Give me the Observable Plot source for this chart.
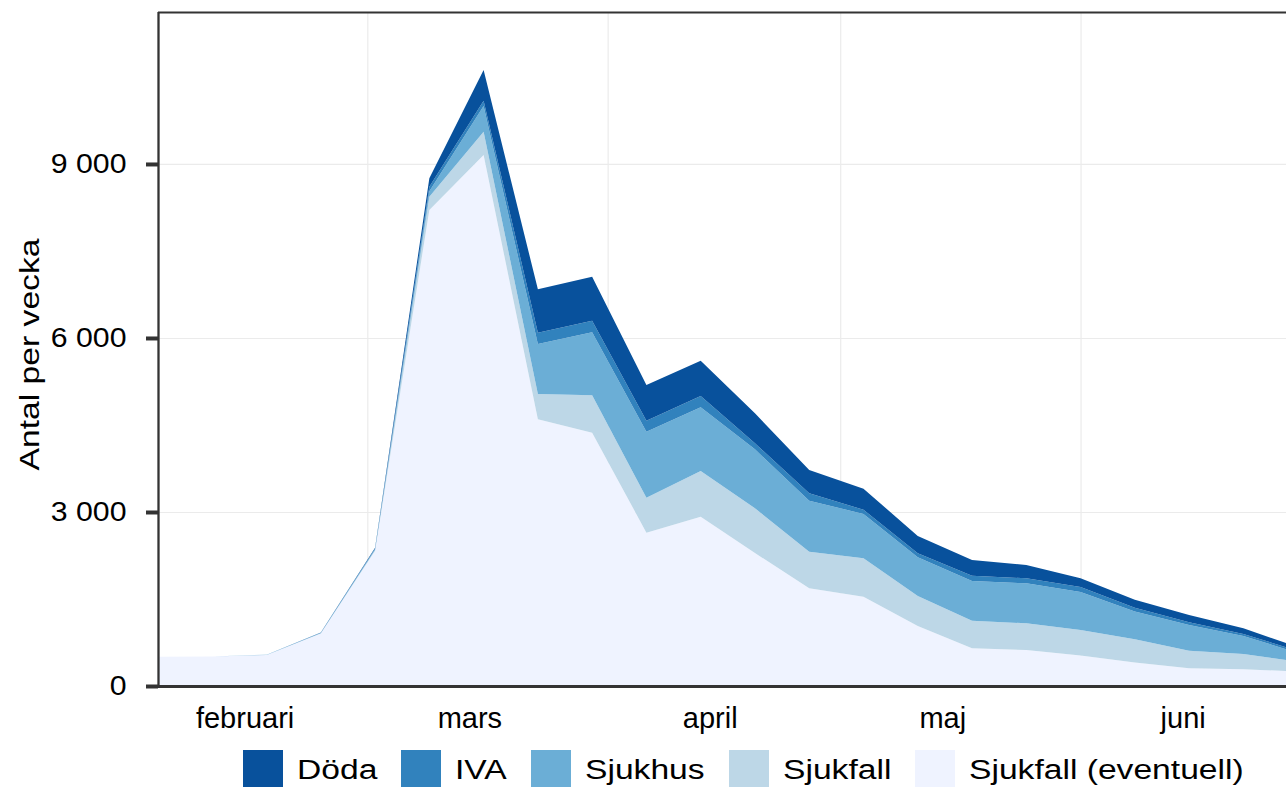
<!DOCTYPE html>
<html>
<head>
<meta charset="utf-8">
<script src="https://cdn.jsdelivr.net/npm/d3@7"></script>
<script src="https://cdn.jsdelivr.net/npm/@observablehq/plot@0.6"></script>
<style>
  html, body { margin: 0; padding: 0; background: #fff; overflow: hidden; width: 1286px; height: 787px; }
  #chart svg { display: block; }
  #legend { margin: 6px 0 0 243px; }
  .lg-swatches { font-family: "Liberation Sans", Arial, sans-serif !important; font-size: 27px !important; color: #000 !important; margin: 0 !important; }
  .lg-swatch { margin-right: 24px !important; }
  .lg-swatch > svg { margin-right: 14px !important; }
</style>
</head>
<body>
<div id="chart"></div>
<div id="legend"></div>
<script>
// Weekly data (week start dates)
const weeks = ["2020-02-03","2020-02-10","2020-02-17","2020-02-24","2020-03-02","2020-03-09","2020-03-16","2020-03-23","2020-03-30","2020-04-06","2020-04-13","2020-04-20","2020-04-27","2020-05-04","2020-05-11","2020-05-18","2020-05-25","2020-06-01","2020-06-08","2020-06-15","2020-06-22","2020-06-29"];
const eventuell = [505, 510, 535, 905, 2330, 8207, 9155, 4598, 4368, 2644, 2919, 2293, 1684, 1540, 1034, 650, 621, 526, 405, 305, 288, 252];
const sjukfall  = [0, 0, 0, 5, 15, 230, 402, 436, 644, 603, 788, 770, 632, 661, 518, 476, 459, 440, 400, 304, 264, 169];
const sjukhus   = [0, 0, 5, 10, 20, 93, 443, 863, 1086, 1138, 1097, 1017, 879, 765, 666, 684, 690, 655, 480, 443, 310, 153];
const iva       = [0, 0, 0, 0, 5, 79, 90, 195, 201, 190, 196, 104, 127, 74, 69, 92, 87, 86, 65, 46, 35, 34];
const doda      = [0, 0, 0, 2, 12, 144, 530, 747, 758, 615, 609, 517, 402, 362, 299, 270, 229, 150, 135, 126, 97, 62];

const categories = ["Döda", "IVA", "Sjukhus", "Sjukfall", "Sjukfall (eventuell)"];
const colors = ["#08519c", "#3182bd", "#6baed6", "#bdd7e7", "#eff3ff"];
const stackOrder = ["Sjukfall (eventuell)", "Sjukfall", "Sjukhus", "IVA", "Döda"];

const monthLabels = ["februari", "mars", "april", "maj", "juni"];
const monthLabelDates = ["2020-02-14T04:00Z", "2020-03-14T04:00Z", "2020-04-14T04:00Z", "2020-05-14T04:00Z", "2020-06-14T04:00Z"];
const monthStarts = ["2020-03-01", "2020-04-01", "2020-05-01", "2020-06-01"];
const yTicks = [0, 3000, 6000, 9000];
const yTitle = "Antal per vecka";
const xDomain = ["2020-02-03", "2020-06-27T12:00Z"];
const yTop = 11620;

const toDate = s => new Date(s.length === 10 ? s + "T00:00Z" : s);
const series = {"Döda": doda, "IVA": iva, "Sjukhus": sjukhus, "Sjukfall": sjukfall, "Sjukfall (eventuell)": eventuell};
const rows = [];
for (const k of stackOrder) {
  series[k].forEach((v, i) => rows.push({date: toDate(weeks[i]), kategori: k, antal: v}));
}
const labelDates = monthLabelDates.map(toDate);
const fmt = d => String(d).replace(/\B(?=(\d{3})+(?!\d))/g, " ");

const chart = Plot.plot({
  width: 1286,
  height: 744,
  marginLeft: 158,
  marginRight: 0,
  marginTop: 12,
  marginBottom: 58,
  style: {fontFamily: '"Liberation Sans", Arial, sans-serif', color: "#000", background: "#fff", overflow: "visible"},
  x: {type: "utc", domain: xDomain.map(toDate)},
  y: {domain: [0, yTop]},
  color: {domain: categories, range: colors},
  marks: [
    Plot.gridY(yTicks, {stroke: "#ebebeb", strokeOpacity: 1, strokeWidth: 1.2}),
    Plot.gridX(monthStarts.map(toDate), {stroke: "#ebebeb", strokeOpacity: 1, strokeWidth: 1.2}),
    Plot.areaY(rows, Plot.stackY({x: "date", y: "antal", z: "kategori", fill: "kategori", order: stackOrder, clip: true})),
    Plot.ruleY([0], {stroke: "#333", strokeWidth: 3}),
    Plot.ruleX([toDate(xDomain[0])], {stroke: "#333", strokeWidth: 2.3}),
    Plot.ruleY([yTop], {stroke: "#333", strokeWidth: 2}),
    Plot.axisY(yTicks, {tickSize: 12, tickPadding: 20, strokeWidth: 4, stroke: "#333", fill: "#000", fontSize: 28, tickFormat: fmt, label: null}),
    Plot.axisX(labelDates, {tickSize: 0, tickPadding: 21, fontSize: 29, fill: "#000", tickFormat: d => monthLabels[labelDates.findIndex(t => +t === +d)], label: null}),
    Plot.text([yTitle], {frameAnchor: "left", dx: -128, dy: 121, rotate: -90, fontSize: 28, fill: "#000", textAnchor: "start", lineAnchor: "middle"})
  ]
});
document.getElementById("chart").append(chart);

// widen glyphs along the reading direction, as in the reference
function stretchText(el, factor) {
  const len = el.getComputedTextLength();
  el.setAttribute("textLength", (len * factor).toFixed(2));
  el.setAttribute("lengthAdjust", "spacingAndGlyphs");
}
chart.querySelectorAll('g[aria-label="y-axis tick label"] text').forEach(t => stretchText(t, 1.08));
chart.querySelectorAll('g[aria-label="text"] text').forEach(t => {
  t.setAttribute("textLength", "232");
  t.setAttribute("lengthAdjust", "spacingAndGlyphs");
});

const legend = Plot.legend({
  color: {domain: categories, range: colors},
  legend: "swatches",
  swatchWidth: 40,
  swatchHeight: 40,
  className: "lg"
});
document.getElementById("legend").append(legend);

const S = 1.245;
legend.querySelectorAll(".lg-swatch").forEach(sw => {
  [...sw.childNodes].forEach(n => {
    const isText = n.nodeType === 3 && n.textContent.trim();
    const isSpan = n.nodeType === 1 && n.nodeName.toLowerCase() !== "svg";
    if (!isText && !isSpan) return;
    const span = document.createElement("span");
    span.textContent = n.textContent;
    span.style.display = "inline-block";
    span.style.whiteSpace = "nowrap";
    sw.replaceChild(span, n);
    const w = span.getBoundingClientRect().width;
    span.style.width = (w * S) + "px";
    span.style.transform = `scaleX(${S})`;
    span.style.transformOrigin = "0 50%";
  });
});
</script>
</body>
</html>
